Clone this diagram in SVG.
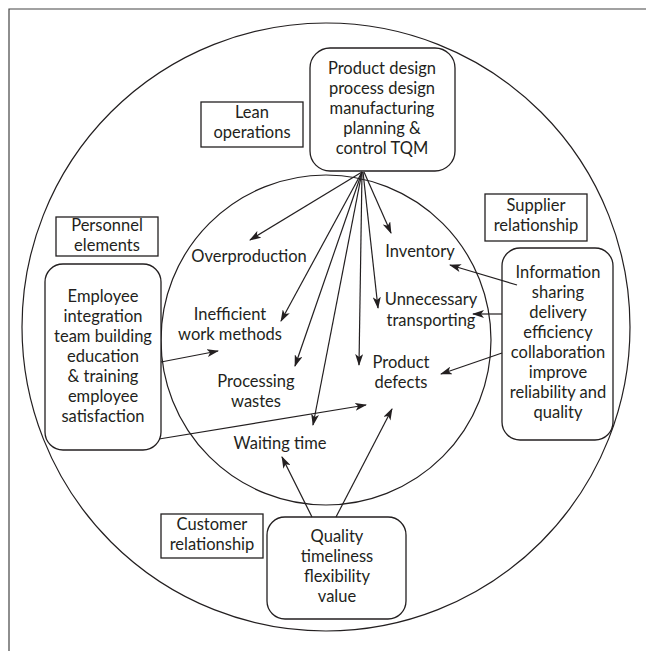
<svg xmlns="http://www.w3.org/2000/svg" width="646" height="651" viewBox="0 0 646 651">
<defs>
<style>
text{font-family:Lato,"Open Sans",sans-serif;font-size:16.5px;fill:#231f20;text-anchor:middle}
.box{fill:#fff;stroke:#231f20;stroke-width:1.3}
.lab{fill:#fff;stroke:#231f20;stroke-width:1.3}
.ring{fill:none;stroke:#231f20;stroke-width:1.2}
.c line{stroke:#231f20;stroke-width:1.2;marker-end:url(#ah)}
</style>
<marker id="ah" viewBox="0 0 12 8" refX="11" refY="4" markerWidth="12" markerHeight="8" markerUnits="userSpaceOnUse" orient="auto">
<path d="M0,0 L12,4 L0,8 L3,4 z" fill="#231f20"/>
</marker>
</defs>
<rect width="646" height="651" fill="#fff"/>
<path d="M9,651 V9 H646" fill="none" stroke="#444" stroke-width="1.2"/>
<circle class="ring" cx="326" cy="327" r="304"/>
<circle class="ring" cx="326" cy="340" r="165"/>

<g id="lean-ops">
<rect class="box" x="310" y="48" width="145" height="123" rx="20"/>
<text x="382" y="74">Product design</text>
<text x="382" y="94">process design</text>
<text x="382" y="114">manufacturing</text>
<text x="382" y="134">planning &amp;</text>
<text x="382" y="154">control TQM</text>
</g>
<g id="lean-label">
<rect class="lab" x="201" y="102" width="102" height="45"/>
<text x="252" y="118">Lean</text>
<text x="252" y="138">operations</text>
</g>
<g id="personnel-label">
<rect class="lab" x="56" y="217" width="102" height="39"/>
<text x="107" y="231">Personnel</text>
<text x="107" y="251">elements</text>
</g>
<g id="personnel">
<rect class="box" x="45" y="264" width="116" height="186" rx="18"/>
<text x="103" y="302">Employee</text>
<text x="103" y="322">integration</text>
<text x="103" y="342">team building</text>
<text x="103" y="362">education</text>
<text x="103" y="382">&amp; training</text>
<text x="103" y="402">employee</text>
<text x="103" y="422">satisfaction</text>
</g>
<g id="supplier-label">
<rect class="lab" x="485" y="194" width="102" height="47"/>
<text x="536" y="211">Supplier</text>
<text x="536" y="231">relationship</text>
</g>
<g id="supplier">
<rect class="box" x="502" y="248" width="111" height="192" rx="18"/>
<text x="558" y="278">Information</text>
<text x="558" y="298">sharing</text>
<text x="558" y="318">delivery</text>
<text x="558" y="338">efficiency</text>
<text x="558" y="358">collaboration</text>
<text x="558" y="378">improve</text>
<text x="558" y="398">reliability and</text>
<text x="558" y="418">quality</text>
</g>
<g id="customer-label">
<rect class="lab" x="161" y="514" width="102" height="44"/>
<text x="212" y="530">Customer</text>
<text x="212" y="550">relationship</text>
</g>
<g id="customer">
<rect class="box" x="267" y="517" width="139" height="102" rx="18"/>
<text x="337" y="542">Quality</text>
<text x="337" y="562">timeliness</text>
<text x="337" y="582">flexibility</text>
<text x="337" y="602">value</text>
</g>

<g id="overproduction"><text x="249" y="262">Overproduction</text></g>
<g id="inefficient"><text x="230" y="320">Inefficient</text><text x="230" y="340">work methods</text></g>
<g id="processing"><text x="256" y="387">Processing</text><text x="256" y="407">wastes</text></g>
<g id="waiting"><text x="280" y="449">Waiting time</text></g>
<g id="inventory"><text x="420" y="257">Inventory</text></g>
<g id="transporting"><text x="431" y="305">Unnecessary</text><text x="431" y="326">transporting</text></g>
<g id="defects"><text x="401" y="368">Product</text><text x="401" y="388">defects</text></g>

<g id="connectors" class="c">
<line x1="362" y1="172" x2="250" y2="240"/>
<line x1="362" y1="172" x2="281" y2="321"/>
<line x1="362" y1="172" x2="295" y2="366"/>
<line x1="362" y1="172" x2="313" y2="425"/>
<line x1="362" y1="172" x2="359" y2="365"/>
<line x1="363" y1="172" x2="378" y2="308"/>
<line x1="364" y1="172" x2="391" y2="233"/>
<line x1="517" y1="285" x2="450" y2="265"/>
<line x1="502" y1="314" x2="473" y2="314"/>
<line x1="502" y1="353" x2="441" y2="374"/>
<line x1="161" y1="362" x2="218" y2="351"/>
<line x1="159" y1="439" x2="366" y2="405"/>
<line x1="312" y1="517" x2="282" y2="457"/>
<line x1="336" y1="517" x2="392" y2="409"/>
</g>
</svg>
